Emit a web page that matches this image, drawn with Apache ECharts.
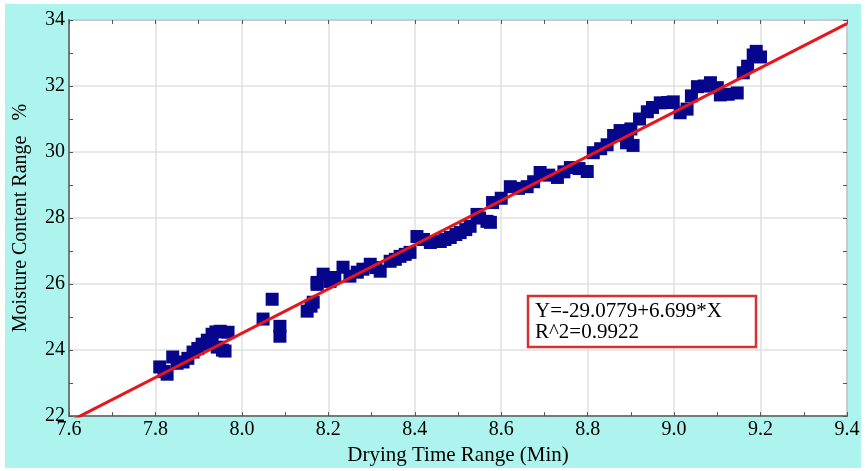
<!DOCTYPE html>
<html>
<head>
<meta charset="utf-8">
<script src="https://cdn.jsdelivr.net/npm/echarts@6/dist/echarts.min.js"></script>
<style>
html,body{margin:0;padding:0;background:#fff;}
#c{width:866px;height:471px;}
</style>
</head>
<body>
<div id="c"></div>
<script>
// Observed scatter points (Drying time, Moisture content)
var dryTime = [7.81,7.82,7.827,7.84,7.85,7.864,7.875,7.887,7.898,7.908,7.92,7.931,7.94,7.95,7.968,7.943,7.955,7.961,7.93,
  8.049,8.07,8.088,8.088,8.151,8.16,8.165,8.174,8.174,8.188,8.204,8.215,8.234,8.25,8.267,8.28,8.297,8.31,8.32,8.343,8.355,8.366,8.378,8.389,
  8.405,8.42,8.436,8.459,8.47,8.482,8.495,8.505,8.518,8.528,8.544,8.55,8.567,8.575,8.58,8.6,8.621,8.64,8.66,8.675,8.69,8.71,8.73,8.745,8.76,8.78,8.799,
  8.813,8.83,8.845,8.86,8.875,8.89,8.892,8.9,8.905,8.92,8.938,8.95,8.968,8.985,8.998,9.014,9.03,9.04,9.054,9.07,9.084,9.1,9.107,9.125,9.146,9.16,9.17,9.183,9.2,9.19];
var moisture = [23.49,23.35,23.27,23.79,23.6,23.64,23.75,23.94,24.05,24.18,24.3,24.48,24.55,24.57,24.54,24.09,24.0,23.97,24.2,
  24.94,25.54,24.72,24.42,25.18,25.33,25.45,25.99,26.05,26.3,26.08,26.2,26.51,26.24,26.36,26.45,26.6,26.5,26.39,26.69,26.75,26.84,26.9,26.96,
  27.44,27.35,27.26,27.29,27.35,27.41,27.5,27.56,27.65,27.75,28.11,28.0,27.9,27.87,28.47,28.6,28.95,28.9,28.95,29.1,29.38,29.3,29.23,29.4,29.53,29.5,29.41,
  29.98,30.1,30.22,30.5,30.65,30.28,30.47,30.7,30.2,31.0,31.22,31.35,31.49,31.5,31.52,31.19,31.3,31.7,31.98,32.0,32.1,31.95,31.73,31.75,31.79,32.4,32.6,32.94,32.88,33.05];
// Fitted line endpoints (Y=-29.0779+6.699*X at the axis ends)
var fitX = [7.6, 9.4];
var fitY = [21.83, 33.89];
var xTicks = [7.6, 7.8, 8.0, 8.2, 8.4, 8.6, 8.8, 9.0, 9.2, 9.4];
var yTicks = [22, 24, 26, 28, 30, 32, 34];
var eqLines = ['Y=-29.0779+6.699*X', 'R^2=0.9922'];
var xName = 'Drying Time Range (Min)';
var yName = 'Moisture Content Range   %';

var scatterData = dryTime.map(function(x, i){ return [x, moisture[i]]; });
var fitData = fitX.map(function(x, i){ return [x, fitY[i]]; });
var font = 'Liberation Serif';
var xMin = xTicks[0], xMax = xTicks[xTicks.length-1];
var yMin = yTicks[0], yMax = yTicks[yTicks.length-1];

function tickAxis(pos, isX) {
  return {
    type: 'value', position: pos,
    min: isX ? xMin : yMin, max: isX ? xMax : yMax, interval: isX ? 0.1 : 1,
    axisLine: {show: false},
    axisTick: {show: true, inside: true, length: 4, lineStyle: {color: '#555', width: 1}},
    axisLabel: {show: false},
    splitLine: {show: false}
  };
}

var chart = echarts.init(document.getElementById('c'), null, {renderer: 'canvas'});
chart.setOption({
  animation: false,
  backgroundColor: '#fff',
  graphic: [
    {type: 'rect', z: -10, shape: {x: 5, y: 4, width: 856, height: 464}, style: {fill: '#aef4ee'}},
    {type: 'rect', z: 100, shape: {x: 528, y: 296, width: 228, height: 51}, style: {fill: '#fff', stroke: '#d93030', lineWidth: 2.5}},
    {type: 'text', z: 101, left: 535, top: 301, style: {text: eqLines.join('\n'), font: '21px "Liberation Serif"', fill: '#000', lineHeight: 21}}
  ],
  grid: {left: 69, top: 20, right: 19, bottom: 54, show: true, backgroundColor: '#fff', borderColor: '#7f8c8c', borderWidth: 2},
  xAxis: [{
    type: 'value', min: xMin, max: xMax, interval: 0.2, position: 'bottom',
    name: xName, nameLocation: 'middle', nameGap: 28,
    nameTextStyle: {fontFamily: font, fontSize: 21, color: '#000'},
    axisLine: {show: true, lineStyle: {color: '#6f7c7c', width: 2}},
    axisTick: {show: false},
    axisLabel: {fontFamily: font, fontSize: 20, color: '#000', margin: 4, formatter: function(v){ return v.toFixed(1); }},
    splitLine: {show: true, lineStyle: {color: '#e0e0e0', width: 1.5}}
  }, tickAxis('bottom', true), tickAxis('top', true)],
  yAxis: [{
    type: 'value', min: yMin, max: yMax, interval: 2, position: 'left',
    name: yName, nameLocation: 'middle', nameGap: 38, nameRotate: 90,
    nameTextStyle: {fontFamily: font, fontSize: 20, color: '#000'},
    axisLine: {show: true, lineStyle: {color: '#6f7c7c', width: 2}},
    axisTick: {show: false},
    axisLabel: {fontFamily: font, fontSize: 20, color: '#000', margin: 4},
    splitLine: {show: true, lineStyle: {color: '#e0e0e0', width: 1.5}}
  }, tickAxis('left', false), tickAxis('right', false)],
  series: [
    {type: 'scatter', data: scatterData, symbol: 'rect', symbolSize: 13, itemStyle: {color: '#06068c', opacity: 1}, z: 3},
    {type: 'line', data: fitData, symbol: 'none', clip: true, lineStyle: {color: '#e8161c', width: 3}, z: 4}
  ]
});
</script>
</body>
</html>
